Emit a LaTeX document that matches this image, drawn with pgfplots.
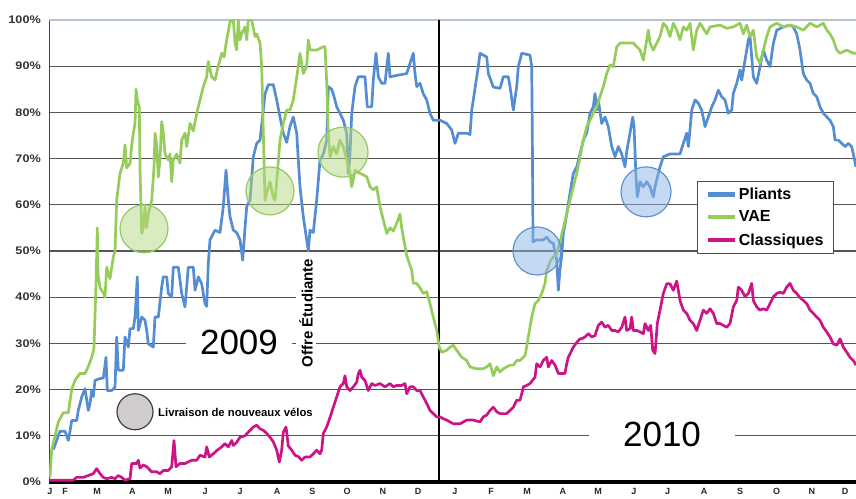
\documentclass[border=0pt]{standalone}
\usepackage{fontspec}
\setmainfont{Liberation Sans}
\newfontfamily\ticklab[FakeStretch=1.15]{Liberation Sans}
\usepackage{pgfplots}
\pgfplotsset{compat=1.18}
\definecolor{pli}{RGB}{84,141,212}
\definecolor{vae}{RGB}{150,205,90}
\definecolor{cla}{RGB}{205,20,135}
\definecolor{gridc}{RGB}{85,85,85}
\definecolor{topc}{RGB}{180,195,210}
\begin{document}
\begin{tikzpicture}
\begin{axis}[
  at={(49bp,17bp)}, anchor=south west,
  scale only axis, width=807bp, height=462bp,
  xmin=1.014, xmax=23.746, ymin=0, ymax=100,
  axis x line*=bottom, axis y line*=left,
  x axis line style={line width=3bp, black, -},
  y axis line style={line width=0.9bp, black!75, -},
  ytick={0,10,20,30,40,50,60,70,80,90},
  yticklabels={0\%,10\%,20\%,30\%,40\%,50\%,60\%,70\%,80\%,90\%},
  extra y ticks={100}, extra y tick labels={100\%},
  extra y tick style={grid style={line width=1.6bp, topc}},
  ymajorgrids, grid style={line width=1.2bp, gridc},
  ytick style={draw=none},
  yticklabel style={anchor=east, inner sep=0pt, xshift=-8bp, text=black!80, font=\ticklab\bfseries\fontsize{11bp}{12bp}\selectfont},
  xtick={1.042,1.465,2.37,3.36,4.37,5.41,6.40,7.44,8.43,9.41,10.42,11.41,12.45,13.47,14.48,15.49,16.48,17.49,18.44,19.47,20.48,21.51,22.50,23.44},
  xticklabels={J,F,M,A,M,J,J,A,S,O,N,D,J,F,M,A,M,J,J,A,S,O,N,D},
  xtick style={draw=none},
  xticklabel style={anchor=north, inner sep=0pt, yshift=-6.5bp, text=black!85, font=\bfseries\fontsize{9bp}{10bp}\selectfont},
  extra x ticks={2,3,4,5,6,7,8,9,10,11,12,13,14,15,16,17,18,19,20,21,22,23},
  extra x tick labels={},
  extra x tick style={xmajorgrids=false, tick style={draw=black, line width=1bp}, major tick length=4bp, tick align=outside},
  legend style={at={(rel axis cs:0.803,0.6515)}, anchor=north west, draw=black!70, line width=0.8bp, fill=white,
    font=\bfseries\fontsize{16bp}{18bp}\selectfont, inner xsep=8bp, inner ysep=4.5bp, row sep=6bp, cells={anchor=west},
    /tikz/every even column/.append style={column sep=2bp}},
  legend image code/.code={\draw[#1, line width=4.5bp] (0bp,0bp) -- (27bp,0bp);},
  every axis plot/.append style={line width=2.7bp, line join=round},
]
\node[fill=white, inner xsep=14bp, inner ysep=1bp, font=\fontsize{35bp}{40bp}\selectfont] at (axis cs:6.366,30.1) {2009};
\node[fill=white, inner xsep=34bp, inner ysep=1bp, font=\fontsize{35bp}{40bp}\selectfont] at (axis cs:18.282,10.2) {2010};
\node[rotate=90, fill=white, inner sep=3bp, font=\bfseries\fontsize{15bp}{17bp}\selectfont] at (axis cs:8.254,36.6) {Offre Étudiante};
\node[anchor=west, inner sep=0pt, font=\bfseries\fontsize{11.3bp}{13bp}\selectfont] at (axis cs:4.085,15.15) {Livraison de nouveaux vélos};
\addplot[black, line width=1.2bp, forget plot] coordinates {(12,0) (12,100)};

\addplot[pli] coordinates {
(1.135,7) (1.276,10) (1.324,11) (1.465,11) (1.558,9) (1.606,11) (1.654,13.3) (1.794,13.3) (1.839,15.5) (1.935,18.4) (2.028,20.2) (2.121,15.5) (2.169,17) (2.217,19.8) (2.262,18.5) (2.310,22) (2.451,22.4) (2.544,22.5) (2.620,27) (2.656,19.8) (2.780,19.8) (2.873,20.5) (2.921,31.4) (2.966,24.2) (3.107,24.2) (3.155,31.4) (3.248,29.2) (3.296,33.2) (3.389,33.2) (3.437,35.7) (3.501,44.4) (3.530,32.8) (3.625,35.7) (3.718,35) (3.766,32.8) (3.811,29.9) (3.952,29.2) (4.000,35.7) (4.093,35.7) (4.189,42.2) (4.234,44.4) (4.330,44.4) (4.375,40.8) (4.470,40) (4.515,46.5) (4.656,46.5) (4.752,40.8) (4.845,37.9) (4.938,46.5) (5.079,46.5) (5.127,41.5) (5.220,44.4) (5.315,42.9) (5.408,38.6) (5.456,38) (5.501,47.3) (5.549,52.4) (5.690,54.5) (5.831,54) (5.924,59.6) (6.000,67.5) (6.065,61) (6.113,57.4) (6.206,54.5) (6.301,54) (6.394,52.4) (6.470,48) (6.535,55) (6.583,59.6) (6.676,61) (6.769,70.4) (6.865,73.3) (6.958,74) (7.051,80.5) (7.099,84) (7.192,86) (7.332,86) (7.428,82.7) (7.521,79) (7.614,75.5) (7.710,73.5) (7.803,77) (7.896,79) (7.992,75.5) (8.037,69.7) (8.085,63.9) (8.177,57.4) (8.273,52.4) (8.318,50) (8.366,54.5) (8.459,54) (8.555,61) (8.648,69.7) (8.741,71) (8.837,74) (8.882,85.6) (8.977,85) (9.023,84) (9.118,81.2) (9.211,79.8) (9.304,78.3) (9.400,75.5) (9.445,66.8) (9.493,71) (9.541,79.8) (9.634,85.6) (9.727,87.7) (9.915,87.7) (9.980,81.2) (10.104,81.2) (10.149,87) (10.225,92.8) (10.290,87.7) (10.386,86.3) (10.479,86.3) (10.572,92.8) (10.620,87.7) (10.808,88) (11.090,88.4) (11.183,90.6) (11.276,92.8) (11.324,88.4) (11.372,85.6) (11.465,86.3) (11.558,84) (11.654,82.7) (11.746,79.8) (11.839,78.3) (12.028,78.3) (12.217,77.6) (12.358,76.2) (12.451,73.3) (12.544,75.5) (12.780,75.5) (12.873,75.2) (12.921,80.5) (12.966,82.7) (13.062,87.7) (13.107,89.9) (13.155,92.8) (13.344,92) (13.389,88.4) (13.530,85.5) (13.718,85.2) (13.811,87.7) (13.952,87.7) (14.000,85.6) (14.093,80.5) (14.189,85.6) (14.234,89.9) (14.330,92.8) (14.563,92.4) (14.611,89.9) (14.628,75.5) (14.648,52) (14.752,52.4) (14.938,52.4) (15.034,53) (15.127,52) (15.220,51.6) (15.315,48) (15.361,41.5) (15.408,46) (15.456,49) (15.501,53.8) (15.597,58) (15.690,62.5) (15.783,66.8) (15.879,68.2) (15.972,71) (16.065,74) (16.161,75.5) (16.254,79.8) (16.346,81.2) (16.394,84.1) (16.442,80.5) (16.487,82.7) (16.583,77.6) (16.676,79) (16.769,76.9) (16.865,72.6) (16.958,70.4) (17.051,72.6) (17.146,71) (17.239,68.2) (17.287,71.5) (17.380,75.5) (17.456,79) (17.493,77) (17.549,66) (17.586,61.7) (17.662,65) (17.755,63.9) (17.851,65) (17.944,63.9) (18.037,61.7) (18.085,63.9) (18.177,66.8) (18.225,68.2) (18.318,70.4) (18.507,71) (18.789,71) (18.882,73.3) (18.977,75.5) (19.023,72.6) (19.070,76.2) (19.118,80.5) (19.211,82.7) (19.304,82) (19.400,80.5) (19.493,76.9) (19.586,79) (19.682,81.2) (19.775,82.7) (19.868,84.8) (19.963,83.4) (20.056,82.7) (20.149,79.8) (20.245,80.5) (20.290,84.1) (20.386,86.3) (20.479,89.2) (20.527,87) (20.620,91.3) (20.713,95.7) (20.761,96.4) (20.808,92) (20.854,87.7) (20.949,86.3) (21.042,89.9) (21.135,93.5) (21.231,91.3) (21.324,89.9) (21.417,94.9) (21.513,97.8) (21.699,98.5) (21.887,98.9) (21.980,98.5) (22.076,97) (22.169,93.5) (22.262,88.4) (22.358,87) (22.451,86.3) (22.544,84.1) (22.639,83.4) (22.732,81.2) (22.825,79.8) (23.014,78.3) (23.107,76.9) (23.155,74) (23.248,74) (23.344,73.3) (23.437,72.6) (23.530,73.3) (23.624,72.6) (23.670,71) (23.746,68.2)
};
\addlegendentry{Pliants}

\addplot[vae] coordinates {
(1.042,1) (1.090,7) (1.183,10) (1.276,13) (1.417,15) (1.558,15) (1.654,20) (1.746,22) (1.887,23.5) (2.028,23.5) (2.121,25) (2.217,27) (2.282,29) (2.338,43) (2.375,55) (2.394,45) (2.451,42) (2.544,41) (2.592,40) (2.639,46.5) (2.732,44) (2.825,48.7) (2.873,50) (2.921,61) (3.014,66.8) (3.107,69) (3.155,73) (3.203,68) (3.296,69) (3.344,73) (3.389,75.5) (3.437,77.6) (3.465,85) (3.501,82.7) (3.558,81) (3.577,68) (3.625,53.8) (3.670,55) (3.718,59.5) (3.766,55) (3.811,58) (3.907,61) (3.972,68) (4.000,75.5) (4.048,73) (4.093,66) (4.141,70) (4.189,78) (4.234,75.5) (4.282,71) (4.375,69.7) (4.423,71) (4.470,65) (4.515,69.7) (4.611,71) (4.704,69) (4.752,74) (4.845,75.5) (4.893,72.6) (4.986,77.6) (5.079,76) (5.175,79.8) (5.268,82.7) (5.361,85.6) (5.456,87.7) (5.501,91) (5.597,87.7) (5.690,87) (5.783,90) (5.879,92.8) (5.944,92) (6.020,95.7) (6.113,99.6) (6.206,100) (6.254,95) (6.301,93.5) (6.346,100) (6.394,95.7) (6.442,97) (6.535,98.5) (6.583,95.7) (6.628,100) (6.724,100) (6.817,96.4) (6.865,97) (6.958,95) (7.006,89.9) (7.051,75.5) (7.099,61) (7.146,62.5) (7.239,65) (7.332,61.7) (7.380,61) (7.428,65) (7.521,74) (7.614,77.6) (7.710,80.5) (7.803,80.5) (7.896,82.7) (8.037,90) (8.085,92.8) (8.177,88.4) (8.273,90) (8.318,95.7) (8.366,93.5) (8.555,93.5) (8.741,94.2) (8.789,94.2) (8.837,86.3) (8.882,75.5) (8.930,70.4) (9.023,72.6) (9.118,71) (9.211,74) (9.304,72.6) (9.400,69.7) (9.493,66.8) (9.541,63.9) (9.634,67.5) (9.775,66.8) (9.963,66.1) (10.056,63.9) (10.149,63.2) (10.245,63.9) (10.338,59.6) (10.431,56.7) (10.527,53.8) (10.620,55) (10.713,54.3) (10.808,56) (10.901,58) (10.949,55) (11.042,51) (11.090,49) (11.231,45.8) (11.276,43) (11.372,43) (11.465,42) (11.558,40.8) (11.654,41.2) (11.746,38.6) (11.839,35.7) (11.935,32.8) (12.008,29.2) (12.076,28.1) (12.217,28.5) (12.310,29.2) (12.403,29.6) (12.499,28.5) (12.639,27) (12.780,26.3) (12.873,24.9) (13.062,24.5) (13.248,24.5) (13.344,24.9) (13.437,25.6) (13.530,23) (13.625,24.9) (13.718,23.8) (13.811,24.5) (14.000,25.3) (14.093,25.3) (14.189,26.3) (14.282,26.3) (14.423,27.4) (14.470,29.2) (14.515,31.4) (14.611,35.7) (14.704,38.6) (14.797,39.3) (14.893,40.8) (14.986,43) (15.034,45.8) (15.079,46.5) (15.127,47.8) (15.220,48.7) (15.315,49.4) (15.408,52) (15.501,55) (15.597,58) (15.690,61) (15.783,63.9) (15.879,66.8) (15.972,70.4) (16.065,74) (16.161,76.9) (16.254,78.3) (16.346,79.8) (16.442,81.2) (16.535,83.4) (16.628,85.6) (16.724,88.4) (16.817,90.3) (16.910,89.9) (17.006,94.2) (17.099,95) (17.473,95) (17.569,94.2) (17.662,93.5) (17.755,91.3) (17.803,93.5) (17.896,97.8) (17.944,95) (18.037,93.5) (18.132,95) (18.225,96.4) (18.318,99.3) (18.414,98.5) (18.507,96.4) (18.600,99.3) (18.696,97.8) (18.789,95.7) (18.882,98.5) (18.977,97.8) (19.070,99.3) (19.163,93.5) (19.259,97.8) (19.352,99.3) (19.541,97) (19.634,98.5) (19.915,98.9) (20.104,98.2) (20.290,98.5) (20.479,99.3) (20.572,97) (20.668,98.9) (20.761,96.4) (20.854,97.8) (20.949,92) (21.042,90.6) (21.135,93.5) (21.231,96.4) (21.324,98.5) (21.513,99.3) (21.699,98.5) (21.887,98.9) (22.076,98.5) (22.262,97.8) (22.451,99.3) (22.639,98.5) (22.825,99.3) (22.921,97.8) (23.014,97) (23.107,95.7) (23.203,93.5) (23.296,92.8) (23.485,93.5) (23.670,92.8) (23.746,92.8)
};
\addlegendentry{VAE}

\addplot[cla] coordinates {
(1.042,0.4) (1.699,0.4) (1.794,1) (1.980,1) (2.121,1.4) (2.262,1.8) (2.358,2.9) (2.451,1.8) (2.544,1) (2.639,0.7) (2.780,1) (2.873,0.7) (2.966,1.4) (3.062,1) (3.155,0.4) (3.296,0.7) (3.344,4) (3.485,4) (3.530,4.7) (3.577,3) (3.670,3.7) (3.766,3.3) (3.907,2.2) (4.048,2.2) (4.141,1.8) (4.234,2.5) (4.375,2.5) (4.470,3.3) (4.535,9) (4.592,3.3) (4.704,4) (4.845,4) (5.034,4.7) (5.175,4.7) (5.268,5.8) (5.408,5.4) (5.456,7.6) (5.530,5.4) (5.642,6.1) (5.738,6.8) (5.879,7.6) (5.972,8.3) (6.065,7.6) (6.161,9) (6.206,7.9) (6.301,8.6) (6.394,9.7) (6.535,10) (6.628,10.8) (6.769,11.9) (6.865,12.3) (6.958,11.5) (7.051,11.2) (7.146,10.5) (7.239,9.7) (7.332,8.7) (7.428,6.9) (7.501,4.3) (7.569,6.9) (7.614,10.8) (7.690,11.9) (7.755,7.8) (7.851,6.9) (7.944,5.8) (8.037,5.5) (8.132,4.7) (8.225,5.4) (8.366,5.4) (8.459,6.1) (8.555,6.9) (8.648,6.1) (8.696,6.9) (8.741,10.5) (8.837,11.9) (8.930,14) (9.023,16.2) (9.118,18.4) (9.211,20.6) (9.304,21.3) (9.352,23) (9.400,20.6) (9.493,19.8) (9.586,20.6) (9.682,21.6) (9.727,23.4) (9.775,24.2) (9.823,22.7) (9.915,22) (10.008,19.8) (10.104,21.3) (10.197,20.9) (10.338,21.3) (10.479,20.6) (10.620,21.3) (10.713,20.6) (10.808,20.9) (10.949,20.9) (11.042,21.3) (11.090,19.1) (11.183,20.6) (11.276,20.6) (11.372,19.8) (11.465,19.8) (11.558,18.4) (11.654,17) (11.746,15.5) (11.839,14.8) (11.935,14.1) (12.028,14.1) (12.121,13.7) (12.217,13.4) (12.310,13) (12.403,12.6) (12.592,12.6) (12.780,13.4) (12.966,13.4) (13.155,13) (13.248,14.1) (13.344,14.5) (13.437,15.5) (13.530,16.2) (13.625,15.2) (13.718,14.8) (13.907,14.8) (14.000,15.5) (14.093,16.2) (14.189,17.7) (14.282,17.7) (14.330,19.1) (14.375,20.6) (14.470,20.9) (14.563,21.3) (14.704,22.7) (14.752,25.6) (14.845,24.9) (14.938,26.3) (15.034,27) (15.079,24.9) (15.175,26.3) (15.268,25.3) (15.361,23.5) (15.549,23.5) (15.597,25.6) (15.642,27) (15.738,28.5) (15.783,29.2) (15.879,30.2) (15.972,31) (16.020,31) (16.113,31.4) (16.206,32.1) (16.301,31.4) (16.394,31.7) (16.487,33.9) (16.583,34.6) (16.676,33.5) (16.769,33.9) (16.865,32.8) (16.958,32.8) (17.051,32.5) (17.146,33.5) (17.239,35.7) (17.287,32.8) (17.380,33.2) (17.428,35.7) (17.473,32.8) (17.569,32.8) (17.662,32.5) (17.755,32.1) (17.803,34.3) (17.851,33.5) (17.896,32.8) (17.963,33.9) (18.020,28.5) (18.085,27.8) (18.149,34.3) (18.225,37.2) (18.318,40.8) (18.414,42.9) (18.507,42.9) (18.600,41.5) (18.696,43.5) (18.741,41.5) (18.789,39.3) (18.882,37.2) (18.977,36.5) (19.070,35) (19.163,34.3) (19.259,32.8) (19.352,35) (19.445,37.2) (19.541,36.5) (19.634,37.5) (19.727,36.5) (19.823,34.3) (19.915,34.3) (20.008,33.9) (20.104,33.5) (20.197,34.3) (20.290,37.9) (20.386,39.3) (20.431,42.2) (20.527,41.5) (20.620,40.1) (20.713,40.8) (20.808,43) (20.854,39.3) (20.949,37.9) (21.042,37.2) (21.135,37.5) (21.231,37.2) (21.324,38.6) (21.417,40.1) (21.513,40.8) (21.606,41.1) (21.699,40.8) (21.794,42.2) (21.887,43) (21.980,41.5) (22.076,40.8) (22.169,39.9) (22.262,39.3) (22.358,38.6) (22.451,37.2) (22.544,36.5) (22.639,35.7) (22.732,35) (22.825,33.5) (22.921,32.5) (23.014,31.4) (23.107,29.9) (23.203,29.6) (23.296,31) (23.389,29.2) (23.485,28.1) (23.577,27) (23.670,26.3) (23.746,25.3)
};
\addlegendentry{Classiques}

\draw[draw={rgb,255:red,150;green,200;blue,100}, fill={rgb,255:red,180;green,215;blue,130}, fill opacity=0.5, line width=1.2bp] (axis cs:3.690,54.8) circle[radius=24bp];
\draw[draw={rgb,255:red,150;green,200;blue,100}, fill={rgb,255:red,180;green,215;blue,130}, fill opacity=0.5, line width=1.2bp] (axis cs:7.239,63.0) circle[radius=24bp];
\draw[draw={rgb,255:red,150;green,200;blue,100}, fill={rgb,255:red,180;green,215;blue,130}, fill opacity=0.5, line width=1.2bp] (axis cs:9.296,71.4) circle[radius=25bp];
\draw[draw={rgb,255:red,95;green,145;blue,205}, fill={rgb,255:red,140;green,180;blue,230}, fill opacity=0.5, line width=1.2bp] (axis cs:14.761,50.0) circle[radius=24bp];
\draw[draw={rgb,255:red,95;green,145;blue,205}, fill={rgb,255:red,140;green,180;blue,230}, fill opacity=0.5, line width=1.2bp] (axis cs:17.831,62.8) circle[radius=25bp];
\draw[draw=black!75, fill={rgb,255:red,210;green,205;blue,205}, line width=1.2bp] (axis cs:3.437,15.2) circle[radius=18bp];
\end{axis}
\pgfresetboundingbox
\path[use as bounding box] (0,0) rectangle (856bp,499bp);
\end{tikzpicture}
\end{document}
